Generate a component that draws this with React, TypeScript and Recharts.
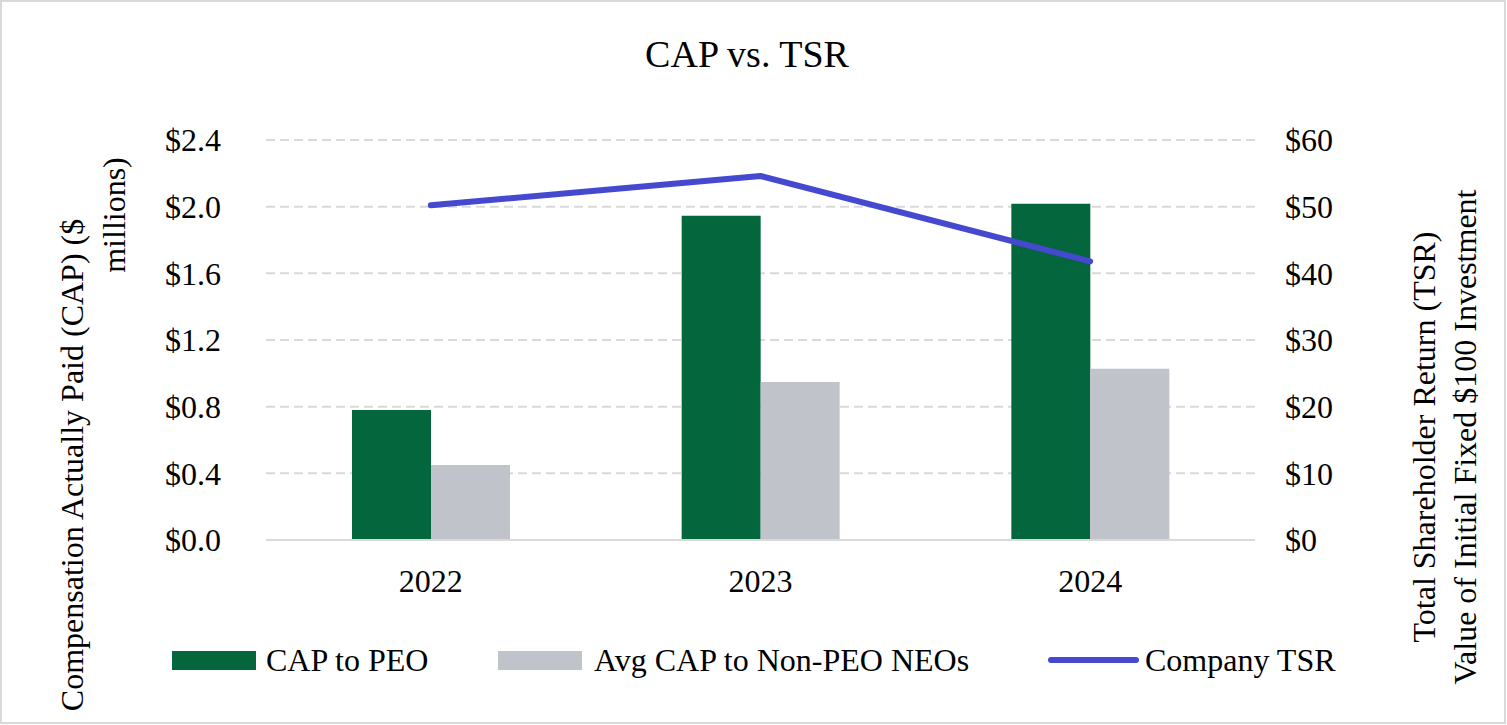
import { ComposedChart, Bar, Line, XAxis, YAxis, CartesianGrid } from 'recharts';

const YEARS = ['2022', '2023', '2024'];
const CAP_PEO = [0.78, 1.945, 2.018];
const CAP_NON_PEO = [0.45, 0.948, 1.027];
const COMPANY_TSR = [50.2, 54.6, 41.8];

const LEFT_TICKS = [0, 0.4, 0.8, 1.2, 1.6, 2.0, 2.4];
const RIGHT_TICKS = [0, 10, 20, 30, 40, 50, 60];

const GREEN = '#03663D';
const GRAY = '#C0C3CA';
const BLUE = '#4449D0';
const GRID = '#D9D9D9';
const FONT = '"Liberation Serif", "Times New Roman", serif';

const data = YEARS.map((year, i) => ({
  year,
  peo: CAP_PEO[i],
  nonPeo: CAP_NON_PEO[i],
  tsr: COMPANY_TSR[i],
}));

const tickStyle = { fontFamily: FONT, fontSize: 32, fill: '#000' };

function LegendRow() {
  const swatch = (kind: 'bar' | 'line', color: string) =>
    kind === 'bar' ? (
      <span style={{ display: 'inline-block', width: 84, height: 19, background: color }} />
    ) : (
      <span
        style={{ display: 'inline-block', width: 91, height: 6, borderRadius: 3, background: color }}
      />
    );
  // legend entries, placed where the reference puts them
  const items = [
    { label: 'CAP to PEO', kind: 'bar' as const, color: GREEN, left: 172, gap: 10 },
    { label: 'Avg CAP to Non-PEO NEOs', kind: 'bar' as const, color: GRAY, left: 498, gap: 12 },
    { label: 'Company TSR', kind: 'line' as const, color: BLUE, left: 1048, gap: 6 },
  ];
  return (
    <>
      {items.map((it) => (
        <div
          key={it.label}
          style={{
            position: 'absolute',
            left: it.left,
            top: 640,
            height: 40,
            display: 'flex',
            alignItems: 'center',
            gap: it.gap,
            fontFamily: FONT,
            fontSize: 32,
            color: '#000',
            whiteSpace: 'nowrap',
          }}
        >
          {swatch(it.kind, it.color)}
          <span>{it.label}</span>
        </div>
      ))}
    </>
  );
}

export default function App() {
  return (
    <div
      style={{
        position: 'absolute',
        left: 0,
        top: 0,
        width: 1507,
        height: 725,
        background: '#fff',
        overflow: 'hidden',
      }}
    >
      <div
        style={{
          position: 'absolute',
          left: 0,
          top: 0,
          width: 1506,
          height: 724,
          boxSizing: 'border-box',
          border: `2px solid ${GRID}`,
        }}
      />
      <ComposedChart
        width={1507}
        height={725}
        data={data}
        margin={{ top: 140, right: 0, bottom: 125, left: 0 }}
        barGap={0}
      >
        <CartesianGrid
          yAxisId="left"
          vertical={false}
          stroke={GRID}
          strokeWidth={2}
          strokeDasharray="9 5"
        />
        <XAxis
          dataKey="year"
          height={60}
          axisLine={{ stroke: GRID, strokeWidth: 2 }}
          tickLine={false}
          tickSize={0}
          tickMargin={29}
          tick={tickStyle}
        />
        <YAxis
          yAxisId="left"
          orientation="left"
          width={266}
          domain={[0, 2.4]}
          ticks={LEFT_TICKS}
          interval={0}
          axisLine={false}
          tickLine={false}
          tickSize={0}
          tickMargin={45}
          tick={tickStyle}
          tickFormatter={(v: number) => `$${v.toFixed(1)}`}
        />
        <YAxis
          yAxisId="right"
          orientation="right"
          width={252}
          domain={[0, 60]}
          ticks={RIGHT_TICKS}
          interval={0}
          axisLine={false}
          tickLine={false}
          tickSize={0}
          tickMargin={30}
          tick={tickStyle}
          tickFormatter={(v: number) => `$${v}`}
        />
        <Bar yAxisId="left" dataKey="peo" name="CAP to PEO" fill={GREEN} barSize={79} isAnimationActive={false} />
        <Bar
          yAxisId="left"
          dataKey="nonPeo"
          name="Avg CAP to Non-PEO NEOs"
          fill={GRAY}
          barSize={79}
          isAnimationActive={false}
        />
        <Line
          yAxisId="right"
          dataKey="tsr"
          name="Company TSR"
          type="linear"
          stroke={BLUE}
          strokeWidth={6}
          strokeLinecap="round"
          strokeLinejoin="round"
          dot={false}
          activeDot={false}
          isAnimationActive={false}
        />
      </ComposedChart>

      <svg
        width={1507}
        height={725}
        style={{ position: 'absolute', left: 0, top: 0, pointerEvents: 'none' }}
      >
        <text x={747} y={67} textAnchor="middle" fontFamily={FONT} fontSize={38} fill="#000">
          CAP vs. TSR
        </text>
        <text
          x={72}
          y={465}
          transform="rotate(-90 72 465)"
          textAnchor="middle"
          dominantBaseline="central"
          fontFamily={FONT}
          fontSize={32}
          fill="#000"
        >
          Compensation Actually Paid (CAP) ($
        </text>
        <text
          x={114}
          y={215}
          transform="rotate(-90 114 215)"
          textAnchor="middle"
          dominantBaseline="central"
          fontFamily={FONT}
          fontSize={32}
          fill="#000"
        >
          millions)
        </text>
        <text
          x={1424}
          y={437}
          transform="rotate(-90 1424 437)"
          textAnchor="middle"
          dominantBaseline="central"
          fontFamily={FONT}
          fontSize={32}
          fill="#000"
        >
          Total Shareholder Return (TSR)
        </text>
        <text
          x={1465}
          y={437}
          transform="rotate(-90 1465 437)"
          textAnchor="middle"
          dominantBaseline="central"
          fontFamily={FONT}
          fontSize={32}
          fill="#000"
        >
          Value of Initial Fixed $100 Investment
        </text>
      </svg>

      <LegendRow />
    </div>
  );
}
